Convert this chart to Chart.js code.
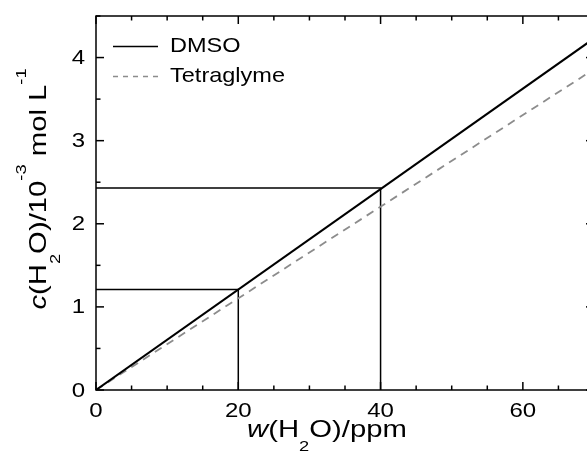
<!DOCTYPE html>
<html>
<head>
<meta charset="utf-8">
<script src="https://cdn.jsdelivr.net/npm/chart.js@4"></script>
<style>
  html, body { margin: 0; padding: 0; background: #fff; overflow: hidden; }
  #wrap { width: 600px; height: 457px; }
</style>
</head>
<body>
<div id="wrap"><canvas id="chart" width="600" height="457"></canvas></div>
<script>
// data
const wPpm = [0, 70];
const dmsoConc = [0, 4.23];
const tetraConc = [0, 3.86];
const markW = [20, 40];
const markC = [1.21, 2.43];
const xTickVals = [0, 20, 40, 60];
const yTickVals = [0, 1, 2, 3, 4];
const xMinorStep = 5;
const yMinorStep = 0.5;

const FONT = "'Liberation Sans', Arial, sans-serif";
// the original figure's lettering is a little stretched sideways
const TICK_SX = 1.2;
const TITLE_SX = 1.22;
const LEGEND_SX = 1.12;

function toPoints(xs, ys) {
  return xs.map((x, i) => ({ x, y: ys[i] }));
}

// drop lines from the DMSO curve to both axes
const markSets = markW.map((w, i) => ({
  label: "",
  data: toPoints([0, w, w], [markC[i], markC[i], 0]),
  borderColor: "#000",
  borderWidth: 1.5,
  pointRadius: 0,
  tension: 0
}));

function partFont(k, size) {
  const small = k === "sub" || k === "sup";
  const fs = small ? Math.round(size * 0.62) : size;
  return `${k === "i" ? "italic " : ""}${fs}px ${FONT}`;
}
function richWidth(ctx, parts, size) {
  let w = 0;
  parts.forEach(([t, k]) => {
    ctx.font = partFont(k, size);
    w += ctx.measureText(t).width;
  });
  return w;
}
// draws centred at current origin, baseline at y = 0
function drawRich(ctx, parts, size) {
  let cx = -richWidth(ctx, parts, size) / 2;
  parts.forEach(([t, k]) => {
    ctx.font = partFont(k, size);
    const dy = k === "sub" ? size * 0.58 : k === "sup" ? -size * 0.82 : 0;
    ctx.fillText(t, cx, dy);
    cx += ctx.measureText(t).width;
  });
}
function stretchedText(ctx, text, x, y, sx) {
  ctx.save();
  ctx.translate(x, y);
  ctx.scale(sx, 1);
  ctx.fillText(text, 0, 0);
  ctx.restore();
}

const xTitle = [["w", "i"], ["(H", "n"], ["2", "sub"], ["O)/ppm", "n"]];
const yTitle = [["c", "i"], ["(H", "n"], ["2", "sub"], ["O)/10", "n"], ["-3", "sup"], [" mol L", "n"], ["-1", "sup"]];

const framePlugin = {
  id: "frame",
  afterDatasetsDraw(chart) {
    const { ctx, chartArea: a, scales } = chart;
    const xs = scales.x, ys = scales.y;
    ctx.save();
    ctx.strokeStyle = "#000";
    ctx.lineWidth = 1.5;
    ctx.strokeRect(a.left, a.top, a.right - a.left, a.bottom - a.top);
    const seg = (x1, y1, x2, y2) => { ctx.beginPath(); ctx.moveTo(x1, y1); ctx.lineTo(x2, y2); ctx.stroke(); };

    // inward ticks on all four sides
    for (let v = xs.min; v <= xs.max + 1e-9; v += xMinorStep) {
      const len = xTickVals.includes(v) ? 8 : 4.5;
      const px = xs.getPixelForValue(v);
      seg(px, a.bottom, px, a.bottom - len);
      seg(px, a.top, px, a.top + len);
    }
    for (let v = ys.min; v <= ys.max + 1e-9; v += yMinorStep) {
      const len = yTickVals.includes(v) ? 8 : 4.5;
      const py = ys.getPixelForValue(v);
      seg(a.left, py, a.left + len, py);
      seg(a.right, py, a.right - len, py);
    }

    // tick labels
    ctx.fillStyle = "#000";
    ctx.font = `20px ${FONT}`;
    ctx.textBaseline = "middle";
    ctx.textAlign = "center";
    xs.ticks.forEach((t) => stretchedText(ctx, String(t.value), xs.getPixelForValue(t.value), a.bottom + 21, TICK_SX));
    ctx.textAlign = "right";
    ys.ticks.forEach((t) => stretchedText(ctx, String(t.value), a.left - 11, ys.getPixelForValue(t.value) + 1, TICK_SX));

    // legend
    ctx.textAlign = "left";
    let ly = 46;
    chart.data.datasets.filter((d) => d.label).forEach((d) => {
      ctx.strokeStyle = d.borderColor;
      ctx.lineWidth = 1.5;
      ctx.setLineDash(d.legendDash || []);
      seg(113, ly + 0.5, 158, ly + 0.5);
      ctx.setLineDash([]);
      ctx.font = `21px ${FONT}`;
      stretchedText(ctx, d.label, 170, ly, LEGEND_SX);
      ly += 30;
    });

    // axis titles
    ctx.textAlign = "left";
    ctx.textBaseline = "alphabetic";
    ctx.save();
    ctx.translate(327, 437);
    ctx.scale(TITLE_SX, 1);
    drawRich(ctx, xTitle, 24);
    ctx.restore();
    ctx.save();
    ctx.translate(46, 189);
    ctx.rotate(-Math.PI / 2);
    ctx.scale(TITLE_SX, 1);
    drawRich(ctx, yTitle, 24);
    ctx.restore();
    ctx.restore();
  }
};

new Chart(document.getElementById("chart"), {
  type: "line",
  data: {
    datasets: [
      {
        label: "DMSO",
        data: toPoints(wPpm, dmsoConc),
        borderColor: "#000",
        borderWidth: 2,
        pointRadius: 0,
        tension: 0
      },
      {
        label: "Tetraglyme",
        data: toPoints(wPpm, tetraConc),
        borderColor: "#8c8c8c",
        borderWidth: 1.8,
        borderDash: [8, 6],
        legendDash: [5, 5],
        pointRadius: 0,
        tension: 0
      },
      ...markSets
    ]
  },
  options: {
    responsive: false,
    animation: false,
    layout: { padding: { top: 16, right: 6, left: 0, bottom: 0 } },
    plugins: { legend: { display: false }, tooltip: { enabled: false } },
    scales: {
      x: {
        type: "linear",
        min: 0,
        max: 70,
        grid: { display: false, drawTicks: false },
        border: { display: false },
        afterBuildTicks: (s) => { s.ticks = xTickVals.map((value) => ({ value })); },
        afterFit: (s) => { s.height = 67; },
        ticks: { display: false }
      },
      y: {
        type: "linear",
        min: 0,
        max: 4.5,
        grid: { display: false, drawTicks: false },
        border: { display: false },
        afterBuildTicks: (s) => { s.ticks = yTickVals.map((value) => ({ value })); },
        afterFit: (s) => { s.width = 96; },
        ticks: { display: false }
      }
    }
  },
  plugins: [framePlugin]
});
</script>
</body>
</html>
